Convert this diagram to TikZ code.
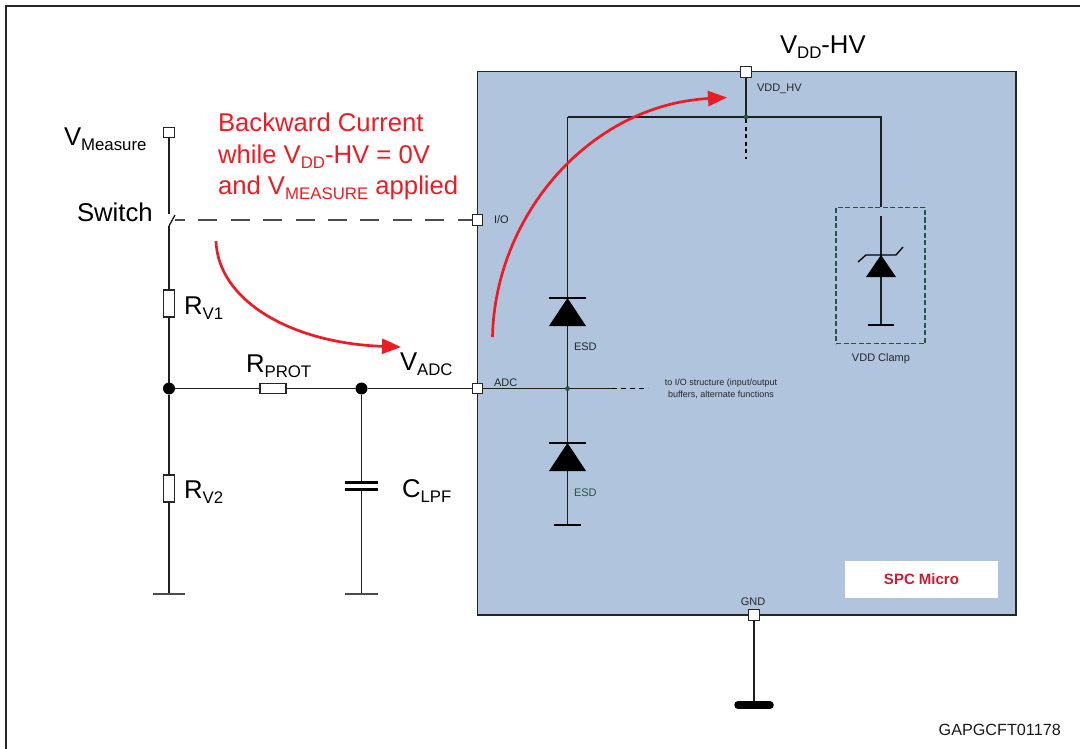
\documentclass[tikz,border=0pt]{standalone}
\usepackage{fontspec}
\setmainfont{Liberation Sans}
\usetikzlibrary{arrows.meta}
\definecolor{chip}{RGB}{176,196,221}
\definecolor{redtxt}{RGB}{237,28,36}
\definecolor{spcred}{RGB}{200,30,50}
\definecolor{dgreen}{RGB}{40,85,65}
\newcommand{\fsz}[1]{\fontsize{#1}{#1}\selectfont}
\newcommand{\lowsub}[1]{\raisebox{-5pt}{\fsz{16.8}#1}}
\tikzset{
  wire/.style={line width=1.35pt,draw=black!88},
  frameline/.style={line width=1.5pt,draw=black!85},
  pin/.style={draw=black!85,fill=white,line width=1.2pt,minimum size=10.5pt,inner sep=0pt,outer sep=0pt},
  resv/.style={draw=black!85,fill=white,line width=1.2pt,minimum width=10.5pt,minimum height=27pt,inner sep=0pt,outer sep=0pt},
  resh/.style={draw=black!85,fill=white,line width=1.2pt,minimum width=26pt,minimum height=10.5pt,inner sep=0pt,outer sep=0pt},
  bigdot/.style={circle,fill=black,minimum size=12pt,inner sep=0pt,outer sep=0pt},
  smalldot/.style={circle,fill=dgreen,minimum size=4.5pt,inner sep=0pt,outer sep=0pt},
  lbl/.style={inner sep=0pt,outer sep=0pt,anchor=base west,font=\fsz{25.7}},
  tiny/.style={inner sep=0pt,outer sep=0pt,font=\fsz{11},text=black!85},
  redlbl/.style={inner sep=0pt,outer sep=0pt,anchor=base west,font=\fsz{25.7},text=redtxt},
  redarrow/.style={draw=redtxt,line width=2.7pt,-{Triangle[length=19pt,width=15pt]}},
  platebar/.style={line width=1.35pt,draw=black},
}
\begin{document}
\begin{tikzpicture}[x=1pt,y=-1pt]
\useasboundingbox (0,0) rectangle (1080,749);
% frame
\draw[frameline] (6,749) -- (6,6) -- (1080,6);
% chip body
\node[draw=black!85,line width=1.3pt,fill=chip,minimum width=538.5pt,minimum height=543.5pt,inner sep=0pt,outer sep=0pt,anchor=north west] (chip) at (477.5,71.5) {};
\node[fill=white,minimum width=153pt,minimum height=37pt,inner sep=0pt] (spc) at (921.5,579.5) {\fsz{15}\bfseries\textcolor{spcred}{SPC Micro}};

% named points
\node[pin] (pinM) at (169,132.5) {};
\node[pin] (pinIO) at (477.5,220) {};
\node[pin] (pinADC) at (477.5,388.5) {};
\node[pin] (pinVDD) at (746,72) {};
\node[pin] (pinGND) at (754,615) {};
\coordinate (swTop) at (169,214);
\coordinate (swBot) at (169,226);
\coordinate (swTip) at (175,215);
\coordinate (swMid) at (175,220);
\coordinate (gndA) at (169,594);
\coordinate (gndB) at (361.5,594);
\coordinate (gndC) at (754,705);
\coordinate (tl) at (567.5,117);
\coordinate (tr) at (881,117);
\coordinate (boxIn) at (881,207);
\coordinate (zTop) at (881,216);
\coordinate (zGnd) at (881,325);
\coordinate (eGnd) at (567.5,525);
\coordinate (adcSolidEnd) at (612,388.5);
\coordinate (adcDashEnd) at (648,388.5);
\coordinate (vddDash) at (746,159);
\node[bigdot] (dotA) at (169,388.5) {};
\node[bigdot] (dotB) at (361.5,388.5) {};
\node[smalldot] (jADC) at (567.5,388.5) {};
\node[smalldot] (jVDD) at (746,117) {};
\node[resv] (rv1) at (169,303.5) {};
\node[resv] (rv2) at (169,488.5) {};
\node[resh] (rp) at (273,388.5) {};
\coordinate (capT) at (361.5,482.5);
\coordinate (capB) at (361.5,489.5);

% wires
\draw[wire] (pinM) -- (swTop);
\draw[wire] (swBot) -- (swTip);
\draw[wire] (swBot) -- (rv1.north);
\draw[wire] (rv1.south) -- (dotA);
\draw[wire] (dotA) -- (rv2.north);
\draw[wire] (rv2.south) -- (gndA);
\draw[wire] (dotA) -- (rp.west);
\draw[wire] (rp.east) -- (dotB);
\draw[wire] (dotB) -- (pinADC);
\draw[wire] (dotB) -- (capT);
\draw[wire] (capB) -- (gndB);
\draw[line width=1.6pt,draw=black!70,dash pattern=on 19pt off 13.4pt,dash phase=9pt] (swMid) -- (pinIO.west);
\draw[wire] (pinADC) -- (adcSolidEnd);
\draw[line width=1.8pt,draw=black,dash pattern=on 5pt off 4pt,dash phase=0pt] (adcSolidEnd) -- (adcDashEnd);
\draw[wire] (tl) -- (tr) -- (boxIn);
\draw[wire] (tl) -- (eGnd);
\draw[wire] (pinVDD) -- (jVDD);
\draw[line width=1.8pt,draw=black,dash pattern=on 4pt off 3.5pt] (jVDD) -- (vddDash);
\draw[wire] (zTop) -- (zGnd);
\draw[wire] (pinGND) -- (gndC);

% redraw pins above wires
\node[pin] at (169,132.5) {};
\node[pin] at (477.5,220) {};
\node[pin] at (477.5,388.5) {};
\node[pin] at (746,72) {};
\node[pin] at (754,615) {};
\node[smalldot] at (567.5,388.5) {};
\node[smalldot] at (746,117) {};

% grounds
\draw[line width=1.6pt,draw=black!70] (153,594) -- (185,594);
\draw[line width=1.6pt,draw=black!70] (345,594) -- (378,594);
\draw[line width=1.4pt,draw=black] (554,525) -- (581,525);
\draw[line width=1.6pt,draw=black] (868,325) -- (894,325);
\draw[line width=7.5pt,draw=black,line cap=round] (738,705) -- (770,705);
% capacitor
\draw[line width=2.6pt,draw=black] (345,482.5) -- (378,482.5);
\draw[line width=2.6pt,draw=black] (345,489.5) -- (378,489.5);
% diodes
\fill[black] (567.5,298) -- (586,326) -- (549,326) -- cycle;
\draw[platebar] (549,298) -- (586,298);
\fill[black] (567.5,443) -- (586,471) -- (549,471) -- cycle;
\draw[platebar] (549,443) -- (586,443);
% zener
\fill[black] (881,255) -- (896,277) -- (866,277) -- cycle;
\draw[platebar] (858,262) -- (866,255) -- (896,255) -- (903,247);
% clamp box
\node[draw=dgreen,line width=1.2pt,dash pattern=on 5pt off 2.5pt,minimum width=89pt,minimum height=136pt,inner sep=0pt,outer sep=0pt,anchor=north west] (clamp) at (836,207.5) {};

% red arrows
\draw[redarrow] (216,241) .. controls (218,300) and (290,343) .. (401,347);
\draw[redarrow] (492.5,337) .. controls (495,215) and (590,105) .. (727,97.5);

% labels
\node[lbl] (tM) at (64,146) {V\lowsub{Measure}};
\node[lbl] (tSw) at (77,222) {Switch};
\node[lbl] (tR1) at (184,314) {R\lowsub{V1}};
\node[lbl] (tR2) at (184,498) {R\lowsub{V2}};
\node[lbl] (tRp) at (246,372) {R\lowsub{PROT}};
\node[lbl] (tVa) at (400,370) {V\lowsub{ADC}};
\node[lbl] (tC) at (402,497) {C\lowsub{LPF}};
\node[lbl] (tVdd) at (780,54) {V\lowsub{DD}-HV};
\node[redlbl] (r1) at (218,132) {Backward Current};
\node[redlbl] (r2) at (218,164) {while V\lowsub{DD}-HV = 0V};
\node[redlbl] (r3) at (218,195) {and V\lowsub{MEASURE} applied};
\node[tiny,anchor=base west] (tIO) at (494,223) {I/O};
\node[tiny,anchor=base west] (tADC) at (494,386) {ADC};
\node[tiny,anchor=base west] (tHV) at (757,92) {VDD\_HV};
\node[tiny,anchor=base west] (tE1) at (574,350.5) {ESD};
\node[tiny,anchor=base west,text=dgreen] (tE2) at (574,496) {ESD};
\node[tiny,anchor=base] (tCl) at (881,361) {VDD Clamp};
\node[tiny,anchor=base] (tG) at (753,605.5) {GND};
\node[inner sep=0pt,align=center,font=\fsz{9},text=black!85] (tS) at (721,388.5) {to I/O structure (input/output\\[3pt]buffers, alternate functions};
\node[inner sep=0pt,anchor=base east,font=\fsz{16.2},text=black!90] (tGap) at (1061,735.5) {GAPGCFT01178};
\end{tikzpicture}
\end{document}
